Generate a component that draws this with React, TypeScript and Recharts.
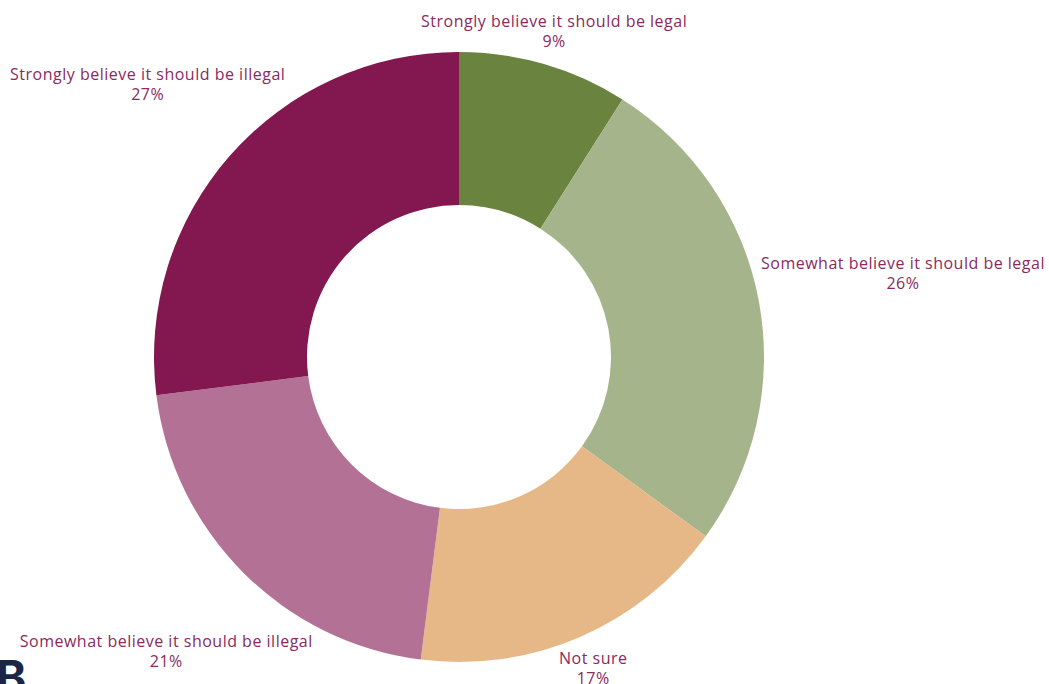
import React from "react";
import { PieChart, Pie, Cell } from "recharts";

const categories = [
  "Strongly believe it should be legal",
  "Somewhat believe it should be legal",
  "Not sure",
  "Somewhat believe it should be illegal",
  "Strongly believe it should be illegal",
];
const shares = [9, 26, 17, 21, 27];
const colors = ["#6a833f", "#a6b48c", "#e6b887", "#b37295", "#82184f"];

// how far past the outer edge each label sits (px)
const labelGap = [36, 147, 33, 109, 110];

const data = categories.map((name, i) => ({ name, value: shares[i] }));

const RAD = Math.PI / 180;

const renderLabel = (props: any) => {
  const { cx, cy, midAngle, outerRadius, index, name, value } = props;
  const r = outerRadius + labelGap[index];
  const x = cx + r * Math.cos(-midAngle * RAD);
  const y = cy + r * Math.sin(-midAngle * RAD);
  return (
    <text
      x={x}
      y={y}
      textAnchor="middle"
      fill="#8a2a5e"
      fontSize={16}
      letterSpacing={0.5}
      fontFamily="'Open Sans', sans-serif"
    >
      <tspan x={x} dy={-3}>{name}</tspan>
      <tspan x={x} dy={20}>{value}%</tspan>
    </text>
  );
};

export default function App() {
  return (
    <div style={{ position: "absolute", left: 0, top: 0, width: 1049, height: 684, overflow: "hidden", background: "#fff" }}>
      <PieChart width={1049} height={684} margin={{ top: 0, right: 0, bottom: 0, left: 0 }}>
        <Pie
          data={data}
          dataKey="value"
          nameKey="name"
          cx={459}
          cy={357}
          innerRadius={152}
          outerRadius={305}
          startAngle={90}
          endAngle={-270}
          stroke="none"
          label={renderLabel}
          labelLine={false}
          isAnimationActive={false}
        >
          {data.map((d, i) => (
            <Cell key={d.name} fill={colors[i]} />
          ))}
        </Pie>
      </PieChart>
      <div
        style={{
          position: "absolute",
          left: -4,
          top: 652,
          fontFamily: "Inter, sans-serif",
          fontWeight: 700,
          fontSize: 46,
          lineHeight: "50px",
          color: "#1b2545",
        }}
      >
        B
      </div>
    </div>
  );
}
